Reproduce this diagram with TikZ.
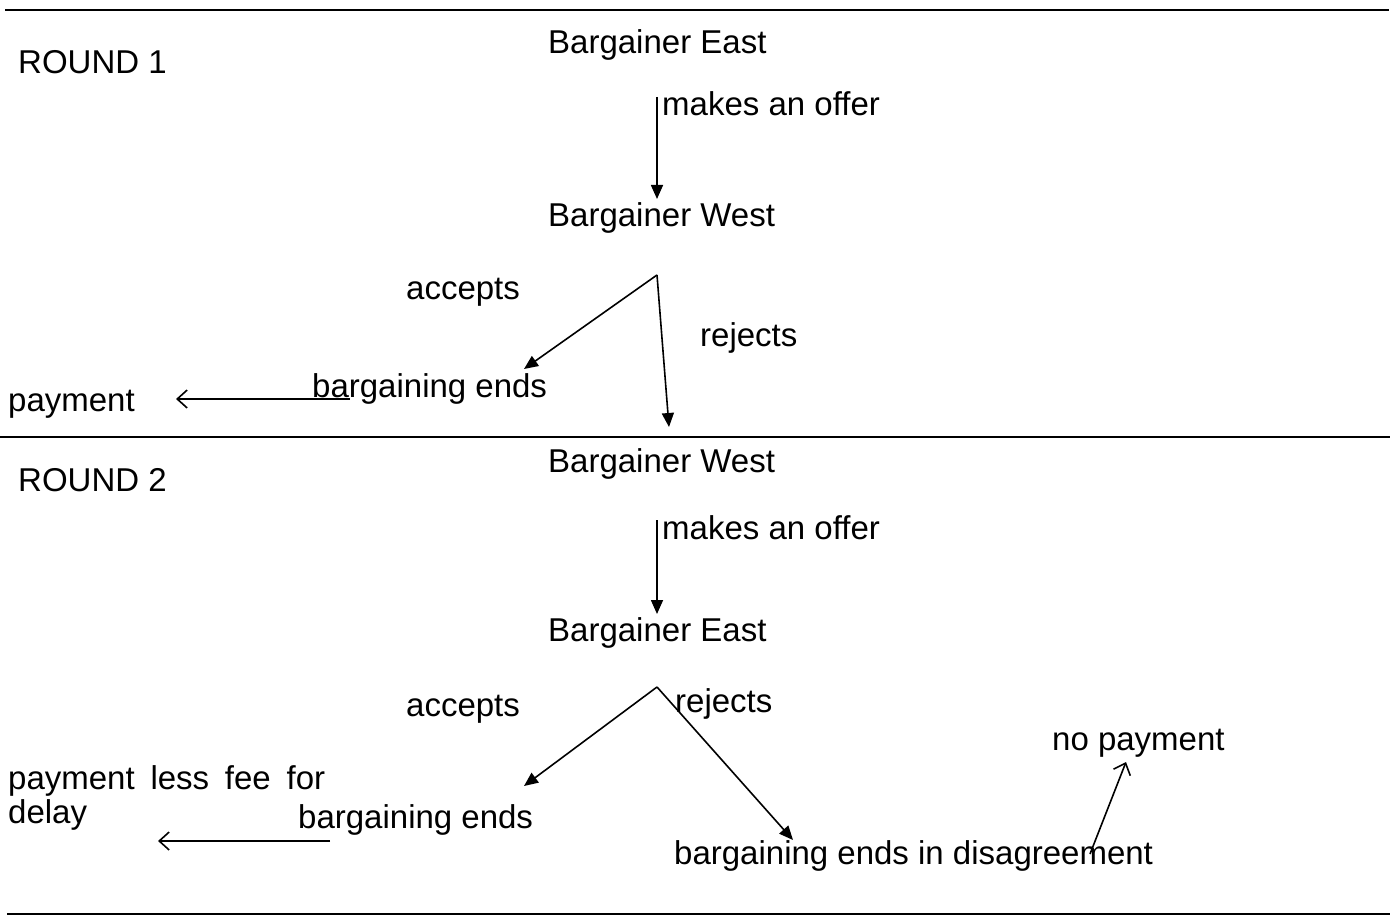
\documentclass[tikz,border=0pt]{standalone}
\usepackage{fontspec}
\setmainfont{Liberation Sans}
\usetikzlibrary{arrows.meta}
\begin{document}
\begin{tikzpicture}[x=1pt,y=-1pt,
  lbl/.style={anchor=base west,inner sep=0pt,font=\fontsize{33}{36}\selectfont},
  rule/.style={line width=2.2pt},
  solidarr/.style={line width=1.6pt,-{Triangle[length=14pt,width=12pt]}},
  openarr/.style={line width=1.6pt,-{Straight Barb[length=10pt,width=18pt,line width=1.6pt]}}]
\useasboundingbox (0,0) rectangle (1390,923);

% section rules
\draw[rule] (5,10) -- (1389,10);
\draw[rule] (0,437) -- (1390,437);
\draw[rule] (7,914) -- (1390,914);

% ---------- round 1 ----------
\node[lbl] (r1)   at (18,74)  {ROUND 1};
\node[lbl] (e1)   at (548,54) {Bargainer East};
\node[lbl] (off1) at (662,116) {makes an offer};
\node[lbl] (w1)   at (548,226) {Bargainer West};
\node[lbl] (acc1) at (406,299) {accepts};
\node[lbl] (rej1) at (700,346) {rejects};
\node[lbl] (end1) at (312,397) {bargaining ends};
\node[lbl] (pay1) at (8,411)  {payment};

\coordinate (o1s) at (657,97);
\coordinate (o1e) at (657,199);
\coordinate (ap1) at (657,275);
\coordinate (ac1) at (524,369);
\coordinate (rj1) at (669,427);
\coordinate (p1s) at (350,399);
\coordinate (p1e) at (176,399);

\draw[solidarr] (o1s) -- (o1e);
\draw[solidarr] (ap1) -- (ac1);
\draw[solidarr] (ap1) -- (rj1);
\draw[openarr] (p1s) -- (p1e);

% ---------- round 2 ----------
\node[lbl] (w2)   at (548,472) {Bargainer West};
\node[lbl] (r2)   at (18,491) {ROUND 2};
\node[lbl] (off2) at (662,539) {makes an offer};
\node[lbl] (e2)   at (548,641) {Bargainer East};
\node[lbl] (acc2) at (406,716) {accepts};
\node[lbl] (rej2) at (675,712) {rejects};
\node[lbl] (np2)  at (1052,750) {no payment};
\node[lbl] (pay2) at (8,789) {\makebox[317pt][s]{payment less fee for}};
\node[lbl] (del2) at (8,823) {delay};
\node[lbl] (end2) at (298,828) {bargaining ends};
\node[lbl] (dis2) at (674,864) {bargaining ends in disagreement};

\coordinate (o2s) at (657,520);
\coordinate (o2e) at (657,614);
\coordinate (ap2) at (657,687);
\coordinate (ac2) at (524,786);
\coordinate (rj2) at (793,840);
\coordinate (p2s) at (330,841);
\coordinate (p2e) at (158,841);
\coordinate (n2s) at (1090,854);
\coordinate (n2e) at (1126,762);

\draw[solidarr] (o2s) -- (o2e);
\draw[solidarr] (ap2) -- (ac2);
\draw[solidarr] (ap2) -- (rj2);
\draw[openarr] (p2s) -- (p2e);
\draw[openarr] (n2s) -- (n2e);
\end{tikzpicture}
\end{document}
